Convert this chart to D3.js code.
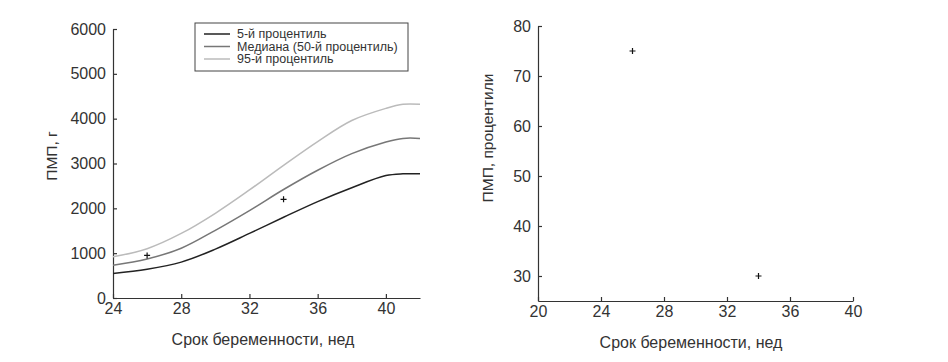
<!DOCTYPE html>
<html>
<head>
<meta charset="utf-8">
<script src="https://cdn.jsdelivr.net/npm/d3@7"></script>
<style>
  body { margin: 0; background: #fff; }
  svg { display: block; font-family: "Liberation Sans", Arial, sans-serif; }
  .axis text { fill: #333; font-size: 16px; }
  .axis path, .axis line { stroke: #333; stroke-width: 1.2; }
</style>
</head>
<body>
<div id="chart"></div>
<script>
// data
var weeks = [24, 26, 28, 30, 32, 34, 36, 38, 40, 41, 42];
var p5 = [545, 640, 800, 1090, 1440, 1800, 2150, 2460, 2730, 2770, 2770];
var p50 = [730, 870, 1110, 1510, 1950, 2420, 2850, 3220, 3480, 3560, 3560];
var p95 = [920, 1100, 1440, 1890, 2410, 2960, 3490, 3960, 4230, 4320, 4320];
var seriesNames = ["5-й процентиль", "Медиана (50-й процентиль)", "95-й процентиль"];
var seriesColors = ["#222", "#777", "#bbb"];
var fetalWeeks = [26, 34];
var fetalWeight = [950, 2200];
var fetalPercentile = [75, 30];

var svg = d3.select("#chart").append("svg")
  .attr("width", 948)
  .attr("height", 362);

// ---------- left chart ----------
var x1 = d3.scaleLinear().domain([24, 42]).range([113, 420]);
var y1 = d3.scaleLinear().domain([0, 6000]).range([298, 29]);

svg.append("g")
  .attr("class", "axis")
  .attr("transform", "translate(0,298)")
  .call(d3.axisBottom(x1).tickValues([24, 28, 32, 36, 40]).tickSizeInner(-4).tickSizeOuter(0).tickPadding(5));

svg.append("g")
  .attr("class", "axis")
  .attr("transform", "translate(113,0)")
  .call(d3.axisLeft(y1).tickValues(d3.range(0, 6001, 1000)).tickFormat(d3.format("d"))
    .tickSizeInner(-4).tickSizeOuter(0).tickPadding(7));

var series = [p5, p50, p95];
var line1 = d3.line()
  .x(function(d, i) { return x1(weeks[i]); })
  .y(function(d) { return y1(d); })
  .curve(d3.curveCatmullRom.alpha(0.5));

series.forEach(function(s, k) {
  svg.append("path")
    .datum(s)
    .attr("d", line1)
    .attr("fill", "none")
    .attr("stroke", seriesColors[k])
    .attr("stroke-width", 1.5);
});

function plus(g, cx, cy) {
  g.append("path")
    .attr("d", "M" + (cx - 3) + "," + cy + "h6M" + cx + "," + (cy - 3) + "v6")
    .attr("stroke", "#111")
    .attr("stroke-width", 1.2);
}

fetalWeeks.forEach(function(w, i) {
  plus(svg, x1(w), y1(fetalWeight[i]));
});

// legend
var lg = svg.append("g").attr("transform", "translate(195,23)");
lg.append("rect")
  .attr("width", 213).attr("height", 48)
  .attr("fill", "#fff").attr("stroke", "#444").attr("stroke-width", 1);
seriesNames.forEach(function(n, i) {
  var yy = 11 + i * 12.5;
  lg.append("line")
    .attr("x1", 9).attr("x2", 35).attr("y1", yy).attr("y2", yy)
    .attr("stroke", seriesColors[i]).attr("stroke-width", 1.5);
  lg.append("text")
    .attr("x", 42).attr("y", yy).attr("dy", "0.35em")
    .style("font-size", "12.5px").style("fill", "#333")
    .text(n);
});

svg.append("text")
  .attr("x", 263).attr("y", 345)
  .attr("text-anchor", "middle")
  .style("font-size", "16px").style("fill", "#333")
  .text("Срок беременности, нед");

svg.append("text")
  .attr("transform", "translate(57,156) rotate(-90)")
  .attr("text-anchor", "middle")
  .style("font-size", "15.5px").style("fill", "#333")
  .text("ПМП, г");

// ---------- right chart ----------
var x2 = d3.scaleLinear().domain([20, 40]).range([538, 853]);
var y2 = d3.scaleLinear().domain([25, 80]).range([301, 26]);

svg.append("g")
  .attr("class", "axis")
  .attr("transform", "translate(0,301)")
  .call(d3.axisBottom(x2).tickValues([20, 24, 28, 32, 36, 40]).tickSizeInner(-4).tickSizeOuter(0).tickPadding(5));

svg.append("g")
  .attr("class", "axis")
  .attr("transform", "translate(538,0)")
  .call(d3.axisLeft(y2).tickValues(d3.range(30, 81, 10)).tickSizeInner(-4).tickSizeOuter(0).tickPadding(7));

fetalWeeks.forEach(function(w, i) {
  plus(svg, x2(w), y2(fetalPercentile[i]));
});

svg.append("text")
  .attr("x", 691).attr("y", 348)
  .attr("text-anchor", "middle")
  .style("font-size", "16px").style("fill", "#333")
  .text("Срок беременности, нед");

svg.append("text")
  .attr("transform", "translate(493,138) rotate(-90)")
  .attr("text-anchor", "middle")
  .style("font-size", "15.5px").style("fill", "#333")
  .text("ПМП, процентили");
</script>
</body>
</html>
